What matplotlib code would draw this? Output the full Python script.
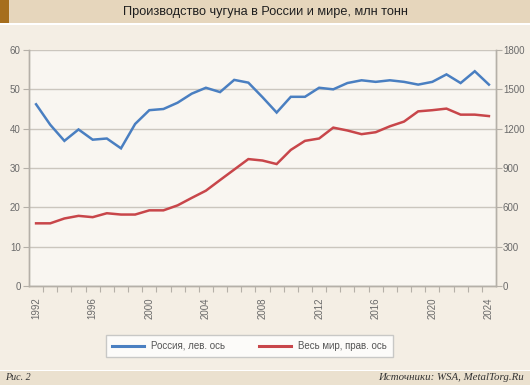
import matplotlib
matplotlib.use("Agg")
import matplotlib.pyplot as plt
from matplotlib.patches import Rectangle
from matplotlib.lines import Line2D

years = list(range(1992, 2025))
russia = [46.2, 41.0, 36.9, 39.8, 37.2, 37.5, 35.0, 41.2, 44.7, 45.0, 46.6,
          48.9, 50.4, 49.3, 52.4, 51.7, 48.0, 44.1, 48.1, 48.1, 50.4, 50.0,
          51.6, 52.3, 51.9, 52.3, 51.9, 51.2, 51.9, 53.8, 51.6, 54.6, 51.2]
world = [478, 478, 515, 535, 525, 555, 545, 545, 577, 577, 615, 672, 727, 808,
         888, 968, 957, 930, 1038, 1107, 1125, 1208, 1186, 1158, 1173, 1218,
         1254, 1332, 1341, 1353, 1307, 1307, 1296]
tick_years = list(range(1992, 2025, 4))
left_ticks = [0, 10, 20, 30, 40, 50, 60]
right_ticks = [0, 300, 600, 900, 1200, 1500, 1800]
title = "Производство чугуна в России и мире, млн тонн"
label_russia = "Россия, лев. ось"
label_world = "Весь мир, прав. ось"

BG = "#f4eee4"
PLOT_BG = "#f9f6f1"
BLUE = "#4a7fc1"
RED = "#c8464a"
GRID = "#cbc6be"
TXT = "#6a6a6a"

plt.rcParams['font.family'] = ['Liberation Sans', 'DejaVu Sans']

W, H = 530, 385
fig = plt.figure(figsize=(W / 100, H / 100), dpi=100, facecolor=BG)

def fy(px):
    return 1 - px / H

# title bar
fig.patches.append(Rectangle((0, fy(23)), 1, 23 / H, transform=fig.transFigure,
                             facecolor="#e6d6bc", edgecolor="none", zorder=0))
fig.patches.append(Rectangle((0, fy(23)), 9 / W, 23 / H, transform=fig.transFigure,
                             facecolor="#a66e1c", edgecolor="none", zorder=1))
fig.patches.append(Rectangle((0, fy(25)), 1, 2 / H, transform=fig.transFigure,
                             facecolor="white", edgecolor="none", zorder=0))
fig.text(0.5, fy(12), title, ha="center", va="center", fontsize=9.2,
         color="#1e1e1e", fontweight="normal")

# bottom bar
fig.patches.append(Rectangle((0, 0), 1, 14 / H, transform=fig.transFigure,
                             facecolor="#ebe1cf", edgecolor="none", zorder=0))
fig.patches.append(Rectangle((0, 14 / H), 1, 1.5 / H, transform=fig.transFigure,
                             facecolor="white", edgecolor="none", zorder=0))
fig.text(5 / W, 7 / H, "Рис. 2", ha="left", va="center", fontsize=7.2,
         family=['Liberation Serif', 'DejaVu Serif'], style="italic", color="#333333")
fig.text(1 - 6 / W, 7 / H, "Источники: WSA, MetalTorg.Ru", ha="right", va="center",
         fontsize=7.8, family=['Liberation Serif', 'DejaVu Serif'], style="italic",
         color="#333333")

ax = fig.add_axes([29 / W, fy(286), (496 - 29) / W, (286 - 50) / H])
ax.set_facecolor(PLOT_BG)
ax2 = ax.twinx()

ax.plot(years, russia, color=BLUE, lw=1.8, solid_joinstyle="miter", zorder=3)
ax2.plot(years, world, color=RED, lw=1.8, solid_joinstyle="miter", zorder=3)

ax.set_xlim(1991.5, 2024.5)
ax.set_ylim(0, 60)
ax2.set_ylim(0, 1800)
ax.set_yticks(left_ticks)
ax2.set_yticks(right_ticks)
ax.grid(axis="y", color=GRID, lw=1.0)
ax.set_axisbelow(True)

# x ticks: marks at category boundaries, labels at centers
ax.set_xticks([y + 0.5 for y in years[:-1]], minor=False)
ax.set_xticklabels([])
ax.set_xticks(tick_years, minor=True)
ax.set_xticklabels([str(y) for y in tick_years], minor=True, rotation=90,
                   fontsize=7, color=TXT)
ax.tick_params(axis="x", which="major", length=4, color="#b5b0a8", direction="out")
ax.tick_params(axis="x", which="minor", length=0, pad=8)

ax.tick_params(axis="y", length=4, color="#b5b0a8", labelsize=7, labelcolor=TXT, pad=2)
ax2.tick_params(axis="y", length=4, color="#b5b0a8", labelsize=7, labelcolor=TXT, pad=1)

for a in (ax, ax2):
    for s in ("top",):
        a.spines[s].set_visible(False)
    for s in ("left", "right", "bottom"):
        a.spines[s].set_color("#b5b0a8")
        a.spines[s].set_linewidth(1.0)

handles = [Line2D([], [], color=BLUE, lw=2.2), Line2D([], [], color=RED, lw=2.2)]
leg = fig.legend(handles, [label_russia, label_world], loc="center",
                 bbox_to_anchor=(249.5 / W, fy(346)), ncol=2, fontsize=7,
                 frameon=True, fancybox=False, edgecolor="#bdbdbd",
                 handlelength=3.3, handletextpad=0.7, columnspacing=3.5,
                 borderpad=0.65, borderaxespad=0, labelcolor="#555555")
leg.get_frame().set_facecolor("white")
leg.get_frame().set_linewidth(1.0)

fig.savefig("out.png", dpi=100, facecolor=BG)
